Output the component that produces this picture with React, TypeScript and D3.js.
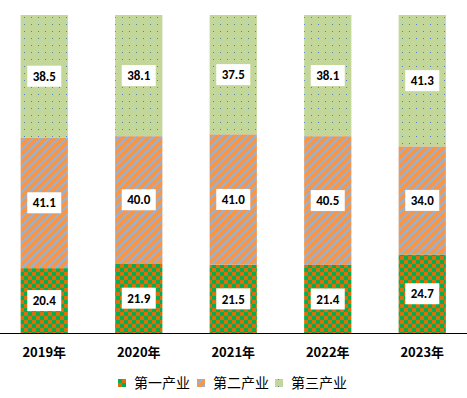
import { useEffect, useRef } from 'react';
import * as d3 from 'd3';

const years = ['2019年', '2020年', '2021年', '2022年', '2023年'];
const primary = [20.4, 21.9, 21.5, 21.4, 24.7];
const secondary = [41.1, 40.0, 41.0, 40.5, 34.0];
const tertiary = [38.5, 38.1, 37.5, 38.1, 41.3];
const seriesNames = ['第一产业', '第二产业', '第三产业'];

const App = () => {
  const svgRef = useRef<SVGSVGElement>(null);

  useEffect(() => {
    if (!svgRef.current) return;
    const root = d3.select(svgRef.current);
    root.selectAll('*').remove();

    const width = 467;
    const top = 15;
    const bottom = 333;

    // patterns
    const defs = root.append('defs');
    const checker = defs.append('pattern').attr('id', 'p1').attr('patternUnits', 'userSpaceOnUse')
      .attr('width', 8).attr('height', 8);
    checker.append('rect').attr('width', 8).attr('height', 8).attr('fill', '#00B050');
    checker.append('rect').attr('width', 4).attr('height', 4).attr('fill', '#E36C09');
    checker.append('rect').attr('x', 4).attr('y', 4).attr('width', 4).attr('height', 4).attr('fill', '#E36C09');

    const stripe = defs.append('pattern').attr('id', 'p2').attr('patternUnits', 'userSpaceOnUse')
      .attr('width', 6).attr('height', 6).attr('patternTransform', 'rotate(45)');
    stripe.append('rect').attr('width', 6).attr('height', 6).attr('fill', '#F79646');
    stripe.append('rect').attr('width', 2).attr('height', 6).attr('fill', '#8DB4E2');

    const dots = defs.append('pattern').attr('id', 'p3').attr('patternUnits', 'userSpaceOnUse')
      .attr('width', 7).attr('height', 7);
    dots.append('rect').attr('width', 7).attr('height', 7).attr('fill', '#C4D79B');
    dots.append('rect').attr('x', 3).attr('y', 3).attr('width', 1).attr('height', 1).attr('fill', '#4F81BD');

    const fills = ['url(#p1)', 'url(#p2)', 'url(#p3)'];

    const x = d3.scaleBand<string>().domain(years).range([-3, 469.5])
      .paddingInner(0.5).paddingOuter(0.25);
    const y = d3.scaleLinear().domain([0, 100]).range([bottom, top]);

    const rows = years.map((yr, i) => ({ year: yr, s0: primary[i], s1: secondary[i], s2: tertiary[i] }));
    const stack = d3.stack<typeof rows[number]>().keys(['s0', 's1', 's2']);
    const layers = stack(rows);

    const g = root.append('g');
    layers.forEach((layer, li) => {
      g.append('g').selectAll('rect').data(layer).enter().append('rect')
        .attr('x', d => x(d.data.year)!)
        .attr('width', x.bandwidth())
        .attr('y', d => y(d[1]))
        .attr('height', d => y(d[0]) - y(d[1]))
        .attr('fill', fills[li]);
    });

    // value labels
    layers.forEach(layer => {
      const lg = g.append('g').selectAll('g').data(layer).enter().append('g')
        .attr('transform', d => `translate(${x(d.data.year)! + x.bandwidth() / 2},${y((d[0] + d[1]) / 2)})`);
      lg.append('rect').attr('x', -17).attr('y', -10.5).attr('width', 34).attr('height', 21).attr('fill', '#fff');
      lg.append('text')
        .attr('text-anchor', 'middle').attr('dy', '0.36em')
        .attr('font-family', 'Carlito, Calibri, "Liberation Sans", sans-serif')
        .attr('font-size', 13).attr('font-weight', 'bold').attr('fill', '#000')
        .text(d => (d[1] - d[0]).toFixed(1));
    });

    // axis line
    root.append('line').attr('x1', 0).attr('x2', width).attr('y1', bottom + 0.5).attr('y2', bottom + 0.5)
      .attr('stroke', '#000').attr('stroke-width', 1);

    root.append('g').selectAll('text').data(years).enter().append('text')
      .attr('x', d => x(d)! + x.bandwidth() / 2)
      .attr('y', 357)
      .attr('text-anchor', 'middle')
      .attr('font-family', '"Noto Sans CJK SC", sans-serif')
      .attr('font-size', 13).attr('font-weight', 'bold').attr('fill', '#000')
      .text(d => d);

    // legend
    const legendX = [118, 197, 275];
    const leg = root.append('g').selectAll('g').data(seriesNames).enter().append('g')
      .attr('transform', (_, i) => `translate(${legendX[i]},383)`);
    leg.append('rect').attr('x', 0).attr('y', -4).attr('width', 8).attr('height', 8)
      .attr('fill', (_, i) => fills[i]);
    leg.append('text').attr('x', 16).attr('dy', '0.35em')
      .attr('font-family', '"Noto Sans CJK SC", sans-serif')
      .attr('font-size', 14).attr('fill', '#000')
      .text(d => d);
  }, []);

  return (
    <svg ref={svgRef} width={467} height={398}
      style={{ position: 'absolute', left: 0, top: 0, background: '#fff' }} />
  );
};

export default App;
